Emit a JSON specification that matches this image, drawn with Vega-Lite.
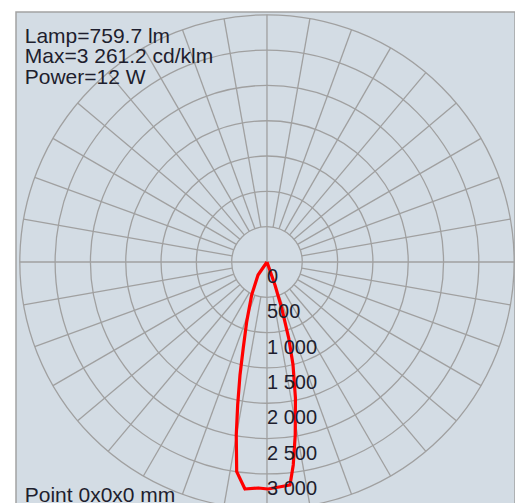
{
  "$schema": "https://vega.github.io/schema/vega-lite/v6.json",
  "autosize": {"type": "none"},
  "padding": {"left": 16, "top": 12, "right": 0, "bottom": 0},
  "width": 499,
  "height": 492,
  "background": "#ffffff",
  "config": {"view": {"fill": "#d3dce4", "stroke": "#a2a2a2", "strokeWidth": 1.5}},
  "datasets": {
    "rings": [{"r": 500}, {"r": 1000}, {"r": 1500}, {"r": 2000}, {"r": 2500}, {"r": 3000}, {"r": 3500}],
    "rays": [
      {"x": -3500, "y": 0, "x2": 3500, "y2": 0},
      {"x": 0, "y": -3500, "x2": 0, "y2": 3500},
      {"x": 492.4, "y": 86.8, "x2": 3446.8, "y2": 607.8},
      {"x": 469.8, "y": 171.0, "x2": 3288.9, "y2": 1197.1},
      {"x": 433.0, "y": 250, "x2": 3031.1, "y2": 1750},
      {"x": 383.0, "y": 321.4, "x2": 2681.1, "y2": 2249.8},
      {"x": 321.4, "y": 383.0, "x2": 2249.8, "y2": 2681.1},
      {"x": 250, "y": 433.0, "x2": 1750, "y2": 3031.1},
      {"x": 171.0, "y": 469.8, "x2": 1197.1, "y2": 3288.9},
      {"x": 86.8, "y": 492.4, "x2": 607.8, "y2": 3446.8},
      {"x": -492.4, "y": 86.8, "x2": -3446.8, "y2": 607.8},
      {"x": -469.8, "y": 171.0, "x2": -3288.9, "y2": 1197.1},
      {"x": -433.0, "y": 250, "x2": -3031.1, "y2": 1750},
      {"x": -383.0, "y": 321.4, "x2": -2681.1, "y2": 2249.8},
      {"x": -321.4, "y": 383.0, "x2": -2249.8, "y2": 2681.1},
      {"x": -250, "y": 433.0, "x2": -1750, "y2": 3031.1},
      {"x": -171.0, "y": 469.8, "x2": -1197.1, "y2": 3288.9},
      {"x": -86.8, "y": 492.4, "x2": -607.8, "y2": 3446.8},
      {"x": -492.4, "y": -86.8, "x2": -3446.8, "y2": -607.8},
      {"x": -469.8, "y": -171.0, "x2": -3288.9, "y2": -1197.1},
      {"x": -433.0, "y": -250, "x2": -3031.1, "y2": -1750},
      {"x": -383.0, "y": -321.4, "x2": -2681.1, "y2": -2249.8},
      {"x": -321.4, "y": -383.0, "x2": -2249.8, "y2": -2681.1},
      {"x": -250, "y": -433.0, "x2": -1750, "y2": -3031.1},
      {"x": -171.0, "y": -469.8, "x2": -1197.1, "y2": -3288.9},
      {"x": -86.8, "y": -492.4, "x2": -607.8, "y2": -3446.8},
      {"x": 492.4, "y": -86.8, "x2": 3446.8, "y2": -607.8},
      {"x": 469.8, "y": -171.0, "x2": 3288.9, "y2": -1197.1},
      {"x": 433.0, "y": -250, "x2": 3031.1, "y2": -1750},
      {"x": 383.0, "y": -321.4, "x2": 2681.1, "y2": -2249.8},
      {"x": 321.4, "y": -383.0, "x2": 2249.8, "y2": -2681.1},
      {"x": 250, "y": -433.0, "x2": 1750, "y2": -3031.1},
      {"x": 171.0, "y": -469.8, "x2": 1197.1, "y2": -3288.9},
      {"x": 86.8, "y": -492.4, "x2": 607.8, "y2": -3446.8}
    ],
    "curve": [
      {"i": 0, "x": 0, "y": 0},
      {"i": 1, "x": -127, "y": -184},
      {"i": 2, "x": -217, "y": -467},
      {"i": 3, "x": -287, "y": -845},
      {"i": 4, "x": -336, "y": -1218},
      {"i": 5, "x": -382, "y": -1600},
      {"i": 6, "x": -415, "y": -2025},
      {"i": 7, "x": -435, "y": -2450},
      {"i": 8, "x": -429, "y": -2969},
      {"i": 9, "x": -312, "y": -3215},
      {"i": 10, "x": -123, "y": -3200},
      {"i": 11, "x": 14, "y": -3215},
      {"i": 12, "x": 326, "y": -3158},
      {"i": 13, "x": 372, "y": -2874},
      {"i": 14, "x": 400, "y": -2450},
      {"i": 15, "x": 403, "y": -1926},
      {"i": 16, "x": 368, "y": -1450},
      {"i": 17, "x": 310, "y": -1090},
      {"i": 18, "x": 208, "y": -651},
      {"i": 19, "x": 113, "y": -326},
      {"i": 20, "x": 0, "y": 0}
    ],
    "labels": [
      {"pos": 0, "label": "0"},
      {"pos": -500, "label": "500"},
      {"pos": -1000, "label": "1 000"},
      {"pos": -1500, "label": "1 500"},
      {"pos": -2000, "label": "2 000"},
      {"pos": -2500, "label": "2 500"},
      {"pos": -3000, "label": "3 000"}
    ],
    "notes": [
      {"text": "Lamp=759.7 lm", "x": -3430, "y": 3101},
      {"text": "Max=3 261.2 cd/klm", "x": -3430, "y": 2811},
      {"text": "Power=12 W", "x": -3430, "y": 2520},
      {"text": "Point 0x0x0 mm", "x": -3430, "y": -3394}
    ]
  },
  "layer": [
    {
      "data": {"name": "rays"},
      "mark": {"type": "rule", "color": "#a0a0a0", "strokeWidth": 1.3},
      "encoding": {
        "x": {"field": "x", "type": "quantitative", "scale": {"domain": [-3554, 3512], "nice": false, "zero": false}, "axis": null},
        "y": {"field": "y", "type": "quantitative", "scale": {"domain": [-3427, 3540], "nice": false, "zero": false}, "axis": null},
        "x2": {"field": "x2"},
        "y2": {"field": "y2"}
      }
    },
    {
      "data": {"name": "rings"},
      "mark": {"type": "point", "shape": "circle", "filled": false, "stroke": "#a0a0a0", "strokeWidth": 1.3, "opacity": 1},
      "encoding": {
        "x": {"datum": 0, "type": "quantitative"},
        "y": {"datum": 0, "type": "quantitative"},
        "size": {"field": "r", "type": "quantitative", "scale": {"type": "pow", "exponent": 2, "domain": [0, 3540], "range": [0, 250000]}, "legend": null}
      }
    },
    {
      "data": {"name": "curve"},
      "mark": {"type": "line", "color": "#ff0000", "strokeWidth": 3.2, "strokeJoin": "round"},
      "encoding": {
        "x": {"field": "x", "type": "quantitative"},
        "y": {"field": "y", "type": "quantitative"},
        "order": {"field": "i", "type": "quantitative"}
      }
    },
    {
      "data": {"name": "labels"},
      "mark": {"type": "text", "align": "left", "baseline": "alphabetic", "dx": 0, "dy": 21, "font": "Liberation Sans", "fontSize": 20, "color": "#1e1e2e"},
      "encoding": {
        "x": {"datum": 0, "type": "quantitative"},
        "y": {"field": "pos", "type": "quantitative"},
        "text": {"field": "label"}
      }
    },
    {
      "data": {"name": "notes"},
      "mark": {"type": "text", "align": "left", "baseline": "alphabetic", "font": "Liberation Sans", "fontSize": 21, "color": "#1e1e2e"},
      "encoding": {
        "x": {"field": "x", "type": "quantitative"},
        "y": {"field": "y", "type": "quantitative"},
        "text": {"field": "text"}
      }
    }
  ]
}
